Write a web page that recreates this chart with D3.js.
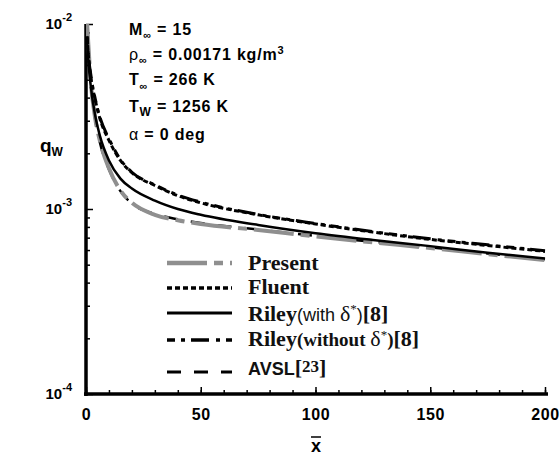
<!DOCTYPE html>
<html>
<head>
<meta charset="utf-8">
<script src="https://cdn.jsdelivr.net/npm/d3@7"></script>
<style>
  body { margin: 0; background: #fff; }
  svg { display: block; }
  .sans { font-family: "Liberation Sans", Arial, sans-serif; }
  .serif { font-family: "Liberation Serif", "Times New Roman", serif; }
</style>
</head>
<body>
<div id="chart"></div>
<script>
// x positions (x-bar) where the curves were read
var xs = [0.5, 1, 2, 4, 6, 10, 15, 20, 30, 40, 50, 75, 100, 125, 150, 175, 200];

// wall heat flux q_w
var present  = [1.0e-2, 7.8e-3, 5.0e-3, 3.1e-3, 2.35e-3, 1.66e-3, 1.26e-3, 1.08e-3, 9.3e-4, 8.7e-4, 8.3e-4, 7.7e-4, 7.1e-4, 6.6e-4, 6.15e-4, 5.7e-4, 5.3e-4];
var fluent   = [8.5e-3, 6.85e-3, 5.3e-3, 3.9e-3, 3.1e-3, 2.35e-3, 1.83e-3, 1.57e-3, 1.34e-3, 1.18e-3, 1.08e-3, 9.3e-4, 8.3e-4, 7.5e-4, 6.85e-4, 6.35e-4, 5.9e-4];
var rileyWith = [8.0e-3, 6.4e-3, 4.7e-3, 3.2e-3, 2.5e-3, 1.83e-3, 1.46e-3, 1.29e-3, 1.11e-3, 1.0e-3, 9.3e-4, 8.2e-4, 7.4e-4, 6.8e-4, 6.3e-4, 5.8e-4, 5.4e-4];
var rileyWithout = [8.6e-3, 6.9e-3, 5.4e-3, 3.95e-3, 3.15e-3, 2.4e-3, 1.85e-3, 1.58e-3, 1.35e-3, 1.19e-3, 1.09e-3, 9.35e-4, 8.35e-4, 7.55e-4, 6.9e-4, 6.4e-4, 5.95e-4];
var avsl     = [9.0e-3, 7.4e-3, 4.9e-3, 3.05e-3, 2.3e-3, 1.64e-3, 1.25e-3, 1.07e-3, 9.4e-4, 8.8e-4, 8.4e-4, 7.75e-4, 7.15e-4, 6.65e-4, 6.2e-4, 5.75e-4, 5.35e-4];

var xTicks = [0, 50, 100, 150, 200];
var yTicks = [1e-4, 1e-3, 1e-2];

var svgWidth = 560;
var svgHeight = 457;

var svg = d3.select("#chart")
  .append("svg")
  .attr("width", svgWidth)
  .attr("height", svgHeight);

var x = d3.scaleLinear()
  .domain([0, 200])
  .range([86, 545]);

var y = d3.scaleLog()
  .domain([1e-4, 1e-2])
  .range([394, 24]);

svg.append("defs").append("clipPath")
  .attr("id", "plot")
  .append("rect")
  .attr("x", 86)
  .attr("y", 22)
  .attr("width", 462)
  .attr("height", 372);

// minor ticks on x
svg.append("g")
  .attr("transform", "translate(0,394)")
  .call(d3.axisBottom(x).tickValues(d3.range(0, 201, 10)).tickSize(-4).tickFormat(""))
  .call(g => g.select(".domain").remove())
  .selectAll("line").attr("stroke", "#000").attr("stroke-width", 1.5);

// major ticks on x
var xAxis = svg.append("g")
  .attr("transform", "translate(0,394)")
  .call(d3.axisBottom(x).tickValues(xTicks).tickSize(-7))
  .call(g => g.select(".domain").remove());
xAxis.selectAll("line").attr("stroke", "#000").attr("stroke-width", 1.5);
xAxis.selectAll("text")
  .attr("class", "sans")
  .attr("font-size", 16)
  .attr("font-weight", "bold")
  .attr("letter-spacing", 0.6)
  .attr("fill", "#000")
  .attr("y", 15);

// y minor ticks
var minor = [];
[1e-4, 1e-3].forEach(function(d) {
  for (var k = 2; k <= 9; k++) minor.push(d * k);
});
svg.append("g")
  .attr("transform", "translate(86,0)")
  .call(d3.axisLeft(y).tickValues(minor).tickSize(-4).tickFormat(""))
  .call(g => g.select(".domain").remove())
  .selectAll("line").attr("stroke", "#000").attr("stroke-width", 1.5);

var yAxis = svg.append("g")
  .attr("transform", "translate(86,0)")
  .call(d3.axisLeft(y).tickValues(yTicks).tickSize(-7).tickFormat(""))
  .call(g => g.select(".domain").remove());
yAxis.selectAll("line").attr("stroke", "#000").attr("stroke-width", 1.5);

// y tick labels 10^n
var yLab = svg.append("g").selectAll("text")
  .data(yTicks)
  .enter()
  .append("text")
  .attr("class", "sans")
  .attr("font-weight", "bold")
  .attr("font-size", 15)
  .attr("text-anchor", "end")
  .attr("x", 72)
  .attr("y", d => y(d) + 5);
yLab.append("tspan").text("10");
yLab.append("tspan")
  .attr("font-size", 11)
  .attr("dy", -8)
  .text(d => String(Math.round(Math.log10(d))));

// axis lines
svg.append("line")
  .attr("x1", 86).attr("x2", 86)
  .attr("y1", 24).attr("y2", 396)
  .attr("stroke", "#000").attr("stroke-width", 3.5);
svg.append("line")
  .attr("x1", 84).attr("x2", 548)
  .attr("y1", 394).attr("y2", 394)
  .attr("stroke", "#000").attr("stroke-width", 3.5);

var line = d3.line()
  .x((d, i) => x(xs[i]))
  .y(d => y(d))
  .curve(d3.curveMonotoneX);

var series = [
  { v: avsl, color: "#000", w: 2.5, dash: "14,13" },
  { v: present, color: "#8f8f8f", w: 4, dash: "40,7,9,7" },
  { v: rileyWith, color: "#000", w: 2.5, dash: null },
  { v: fluent, color: "#000", w: 3, dash: "5,3" },
  { v: rileyWithout, color: "#000", w: 3, dash: "8,6,4,6,18,7,4,6" }
];

var plot = svg.append("g").attr("clip-path", "url(#plot)");
plot.selectAll("path")
  .data(series)
  .enter()
  .append("path")
  .attr("d", d => line(d.v))
  .attr("fill", "none")
  .attr("stroke", d => d.color)
  .attr("stroke-width", d => d.w)
  .attr("stroke-dasharray", d => d.dash);

// legend
var legendY = [263, 288, 313, 340, 372];
var legendSeries = [series[1], series[3], series[2], series[4], series[0]];
svg.append("g").selectAll("line")
  .data(legendSeries)
  .enter()
  .append("line")
  .attr("x1", 167).attr("x2", 232)
  .attr("y1", (d, i) => legendY[i]).attr("y2", (d, i) => legendY[i])
  .attr("stroke", d => d.color)
  .attr("stroke-width", d => d.w + 0.5)
  .attr("stroke-dasharray", d => d.dash);

function addText(yy, parts) {
  var t = svg.append("text").attr("x", 248).attr("y", yy);
  parts.forEach(function(p) {
    t.append("tspan")
      .attr("font-family", p[1] == "sans" ? "Liberation Sans, Arial, sans-serif" : "Liberation Serif, Times New Roman, serif")
      .attr("font-size", p[2])
      .attr("font-weight", p[3] || "bold")
      .attr("dy", p[4] || 0)
      .attr("fill", "#111")
      .text(p[0]);
  });
}
addText(legendY[0] + 7, [["Present", "serif", 22]]);
addText(legendY[1] + 6, [["Fluent", "serif", 22]]);
addText(legendY[2] + 8, [["Riley", "serif", 22], ["(with ", "sans", 18, "normal"], ["δ", "serif", 22, "normal"], ["*", "serif", 13, "normal", -8], [")", "sans", 18, "normal", 8], ["[8]", "serif", 22]]);
addText(legendY[3] + 6, [["Riley", "serif", 22], ["(without ", "serif", 19], ["δ", "serif", 22, "normal"], ["*", "serif", 13, "normal", -7], [")", "serif", 19, "bold", 7], ["[8]", "serif", 22]]);
addText(legendY[4] + 3, [["AVSL", "sans", 18, "bold"], ["[", "serif", 22], ["23", "serif", 17, "bold", -3], ["]", "serif", 22, "bold", 3]]);

// flow conditions
var cond = svg.append("g")
  .attr("class", "sans")
  .attr("font-weight", "bold")
  .attr("font-size", 16)
  .attr("letter-spacing", 0.8)
  .attr("fill", "#000");
var c1 = cond.append("text").attr("x", 129).attr("y", 35);
c1.append("tspan").text("M");
c1.append("tspan").attr("font-size", 11).attr("dy", 4).text("∞");
c1.append("tspan").attr("dy", -4).text(" = 15");
var c2 = cond.append("text").attr("x", 129).attr("y", 60);
c2.append("tspan").attr("font-weight", "normal").text("ρ");
c2.append("tspan").attr("font-size", 11).attr("dy", 4).text("∞");
c2.append("tspan").attr("dy", -4).text(" = 0.00171 kg/m");
c2.append("tspan").attr("font-size", 11).attr("dy", -6).text("3");
var c3 = cond.append("text").attr("x", 129).attr("y", 85);
c3.append("tspan").text("T");
c3.append("tspan").attr("font-size", 11).attr("dy", 5).text("∞");
c3.append("tspan").attr("dy", -5).text(" = 266 K");
var c4 = cond.append("text").attr("x", 129).attr("y", 112);
c4.append("tspan").text("T");
c4.append("tspan").attr("font-size", 12).attr("dy", 4).text("W");
c4.append("tspan").attr("dy", -4).text(" = 1256 K");
var c5 = cond.append("text").attr("x", 129).attr("y", 140);
c5.append("tspan").attr("font-weight", "normal").text("α");
c5.append("tspan").text(" = 0 deg");

// axis titles
var qt = svg.append("text")
  .attr("class", "sans")
  .attr("font-weight", "bold")
  .attr("font-size", 19)
  .attr("x", 40)
  .attr("y", 152);
qt.append("tspan").text("q");
qt.append("tspan").attr("font-size", 12).attr("dy", 4).text("W");

svg.append("text")
  .attr("class", "sans")
  .attr("font-weight", "bold")
  .attr("font-size", 18)
  .attr("x", 316)
  .attr("y", 452)
  .attr("text-anchor", "middle")
  .text("x");
svg.append("line")
  .attr("x1", 311).attr("x2", 321)
  .attr("y1", 437).attr("y2", 437)
  .attr("stroke", "#000").attr("stroke-width", 1.5);
</script>
</body>
</html>
